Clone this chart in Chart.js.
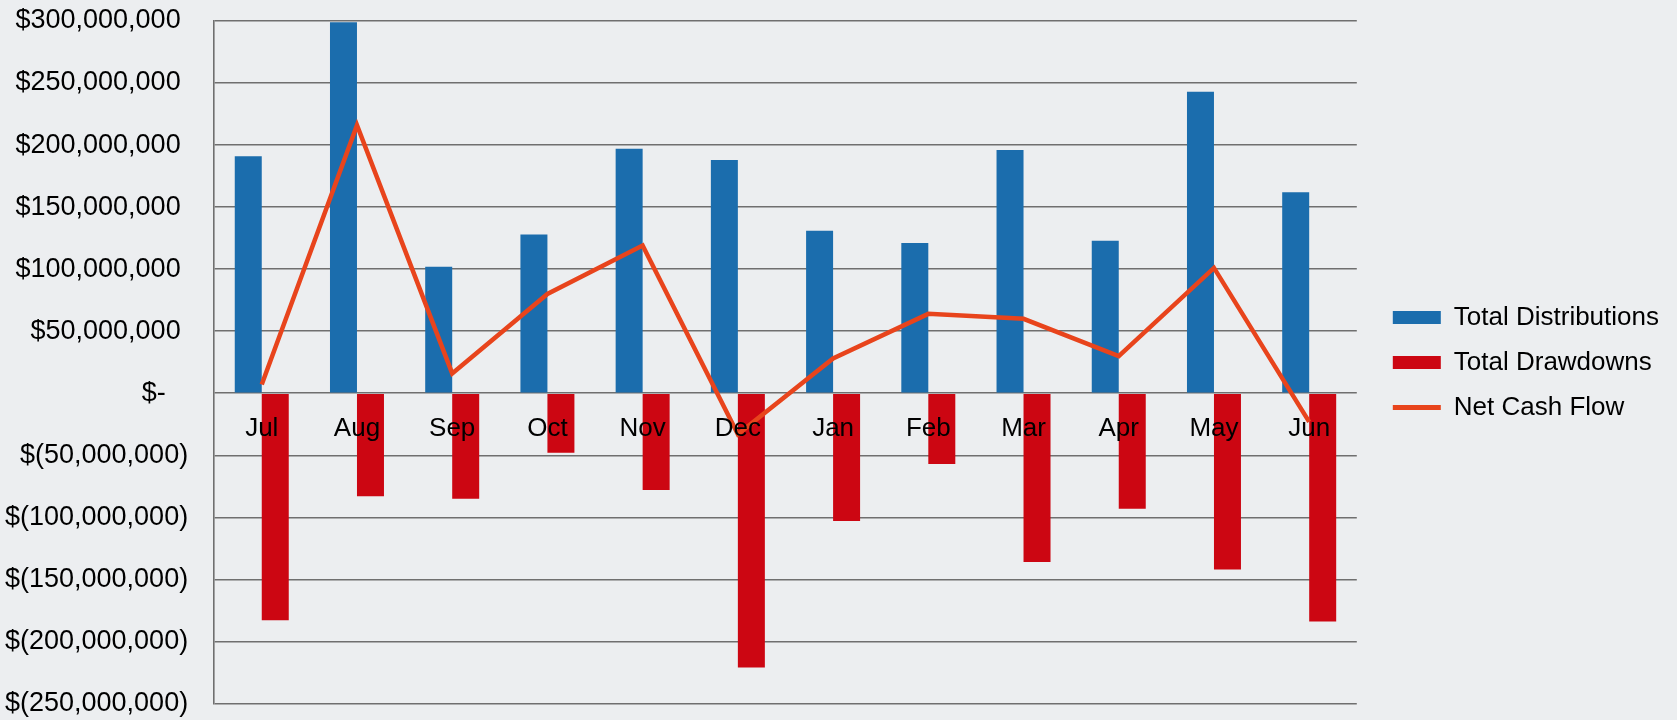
<!DOCTYPE html>
<html>
<head>
<meta charset="utf-8">
<script src="https://cdn.jsdelivr.net/npm/chart.js@4.4.1/dist/chart.umd.min.js"></script>
<style>
    html, body { margin: 0; padding: 0; background: #eceef0; }
    #wrap { width: 1677px; height: 720px; position: relative; }
</style>
</head>
<body>
<div id="wrap"><canvas id="cashChart"></canvas></div>
<script>
// Data
const months = ['Jul', 'Aug', 'Sep', 'Oct', 'Nov', 'Dec', 'Jan', 'Feb', 'Mar', 'Apr', 'May', 'Jun'];
const totalDistributions = [191000000, 299000000, 102000000, 128000000, 197000000, 188000000, 131000000, 121000000, 196000000, 123000000, 243000000, 162000000];
const totalDrawdowns = [-183000000, -83000000, -85000000, -48000000, -78000000, -221000000, -103000000, -57000000, -136000000, -93000000, -142000000, -184000000];
const netCashFlow = [7000000, 216000000, 16000000, 80000000, 119000000, -33000000, 28000000, 64000000, 60000000, 30000000, 101000000, -23000000];
const yMin = -250000000;
const yMax = 300000000;
const yStep = 50000000;

// accounting style: $1,000 / $(1,000) / $-
const formatAccounting = (value) => {
    if (value === 0) return '$-   ';
    const s = Math.abs(value).toLocaleString('en-US');
    return value < 0 ? '$(' + s + ')' : '$' + s + ' ';
};

const gridColor = '#6f6f6f';
const font = 'Liberation Sans, Arial, sans-serif';
const legendGap = 17;

// extra room between the plot and the legend
const legendGapPlugin = {
    id: 'legendGap',
    beforeUpdate(chart) {
        const legend = chart.legend;
        if (!legend || legend._gapDone) return;
        const fit = legend.fit;
        const draw = legend.draw;
        legend.fit = function () {
            fit.call(this);
            this.width += legendGap;
        };
        legend.draw = function () {
            this.left += legendGap;
            draw.call(this);
            this.left -= legendGap;
        };
        legend._gapDone = true;
    }
};

const initChart = () => {
    const ctx = document.getElementById('cashChart');

    new Chart(ctx, {
        type: 'bar',
        data: {
            labels: months,
            datasets: [
                {
                    type: 'line',
                    label: 'Net Cash Flow',
                    data: netCashFlow,
                    borderColor: '#e8441c',
                    backgroundColor: '#e8441c',
                    borderWidth: 4.5,
                    tension: 0,
                    pointRadius: 0,
                    order: 0
                },
                {
                    label: 'Total Distributions',
                    data: totalDistributions,
                    backgroundColor: '#1b6dad',
                    borderWidth: 0,
                    order: 1
                },
                {
                    label: 'Total Drawdowns',
                    data: totalDrawdowns,
                    backgroundColor: '#cc0612',
                    borderWidth: 0,
                    order: 1
                }
            ]
        },
        plugins: [legendGapPlugin],
        options: {
            responsive: true,
            maintainAspectRatio: false,
            animation: false,
            layout: { padding: { left: 2, top: 21, right: 8, bottom: 16 } },
            datasets: {
                bar: { categoryPercentage: 0.567, barPercentage: 1 }
            },
            scales: {
                x: {
                    position: { y: 0 },
                    grid: { display: false },
                    border: { display: false },
                    ticks: {
                        z: 1,
                        color: '#000',
                        padding: 12,
                        maxRotation: 0,
                        autoSkip: false,
                        font: { family: font, size: 26 }
                    },
                    afterFit: (scale) => { scale.height = 0; }
                },
                y: {
                    min: yMin,
                    max: yMax,
                    grid: {
                        color: gridColor,
                        lineWidth: 1.6,
                        drawTicks: true,
                        tickLength: 23,
                        tickColor: 'rgba(0,0,0,0)'
                    },
                    border: { display: true, color: gridColor, width: 1.6 },
                    ticks: {
                        stepSize: yStep,
                        color: '#000',
                        padding: 3,
                        font: { family: font, size: 27, lineHeight: 1 },
                        callback: (value) => formatAccounting(value)
                    }
                }
            },
            plugins: {
                tooltip: { enabled: false },
                legend: {
                    position: 'right',
                    align: 'center',
                    labels: {
                        color: '#000',
                        font: { family: font, size: 26 },
                        usePointStyle: true,
                        pointStyleWidth: 48,
                        boxHeight: 13,
                        padding: 19,
                        sort: (a, b) => {
                            const rank = { 'Total Distributions': 0, 'Total Drawdowns': 1, 'Net Cash Flow': 2 };
                            return rank[a.text] - rank[b.text];
                        },
                        generateLabels: (chart) => {
                            const items = Chart.defaults.plugins.legend.labels.generateLabels(chart);
                            return items.map(item => {
                                if (item.text === 'Net Cash Flow') {
                                    item.pointStyle = 'line';
                                    item.lineWidth = 5;
                                } else {
                                    item.pointStyle = 'rect';
                                    item.lineWidth = 0;
                                }
                                return item;
                            });
                        }
                    }
                }
            }
        }
    });
};

document.addEventListener('DOMContentLoaded', () => {
    initChart();
});
</script>
</body>
</html>
